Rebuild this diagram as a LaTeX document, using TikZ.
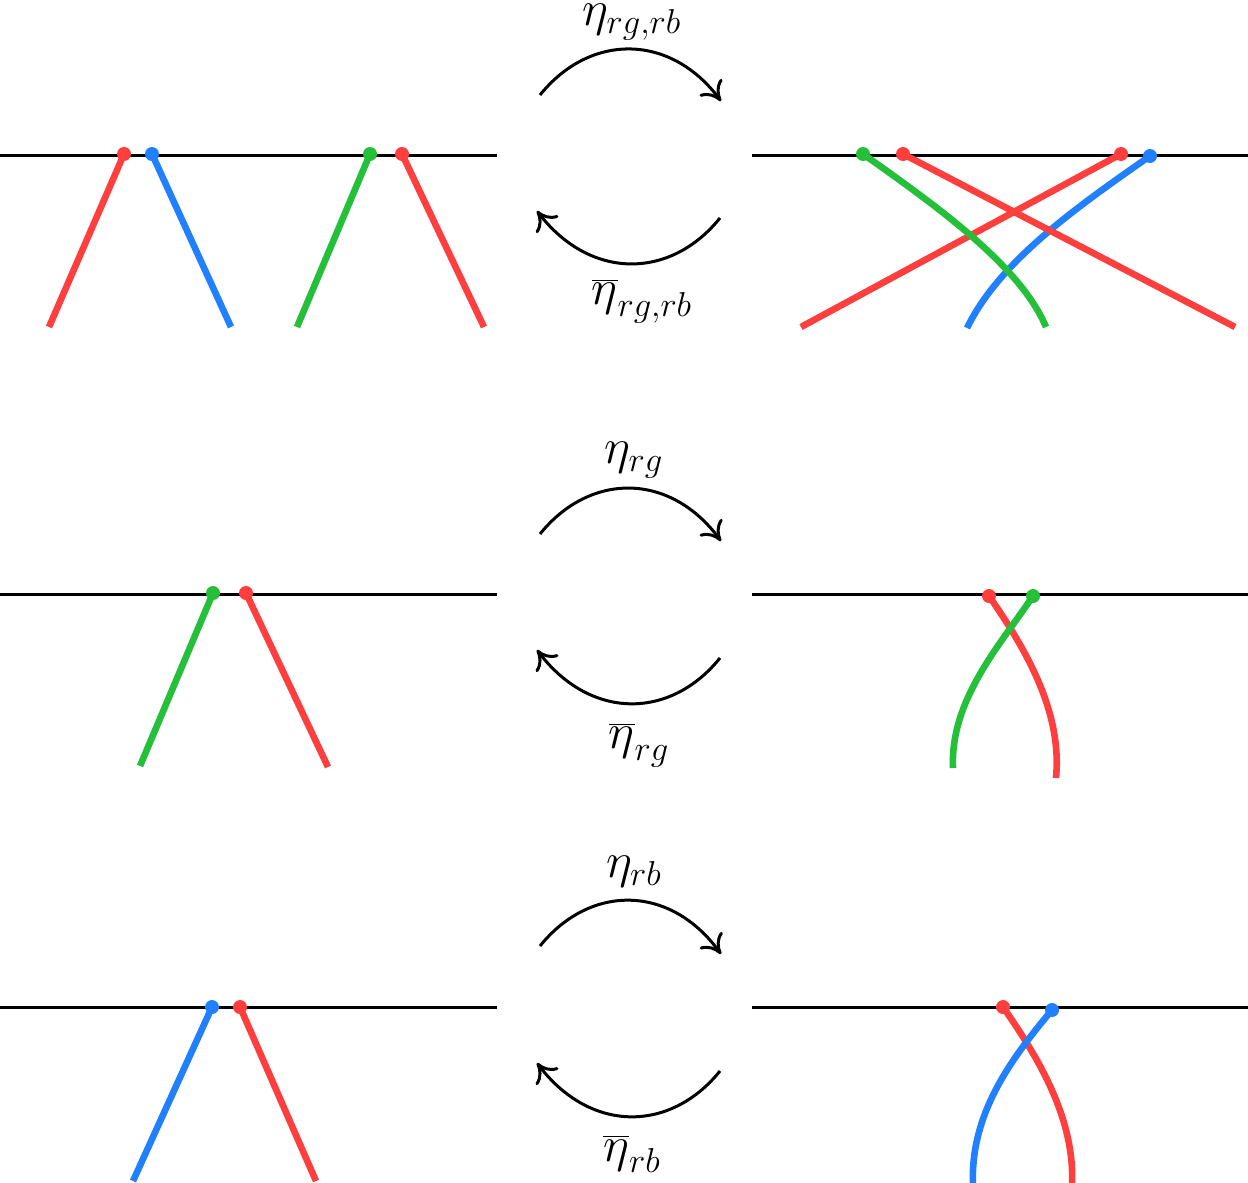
\documentclass[tikz,border=0pt]{standalone}
\usetikzlibrary{arrows.meta}
\definecolor{cred}{RGB}{255,62,62}
\definecolor{cblue}{RGB}{32,128,255}
\definecolor{cgreen}{RGB}{36,192,58}
\begin{document}
\begin{tikzpicture}[x=0.5pt,y=-0.5pt,
  base/.style={line width=1.5pt,black},
  strand/.style={line width=3.3pt,line cap=butt},
  doto/.style={circle,inner sep=0pt,minimum size=7pt},
  arr/.style={line width=1.5pt,-{Computer Modern Rightarrow[length=9pt,width=14pt,line width=1.5pt]}},
  lab/.style={font=\fontsize{23}{28}\selectfont,inner sep=0pt}]
\useasboundingbox (0,0) rectangle (1248,1183);

% ---------- top row ----------
\coordinate (t1a) at (0,155); \coordinate (t1b) at (497,155);
\coordinate (t2a) at (752,155); \coordinate (t2b) at (1248,155);
\draw[base] (t1a) -- (t1b);
\draw[base] (t2a) -- (t2b);
\coordinate (A1) at (124,154); \coordinate (A1e) at (49,327);
\coordinate (A2) at (152,154); \coordinate (A2e) at (231,327);
\coordinate (A3) at (370,154); \coordinate (A3e) at (297,327);
\coordinate (A4) at (402,154); \coordinate (A4e) at (484,327);
\draw[strand,cred] (A1) -- (A1e);
\draw[strand,cblue] (A2) -- (A2e);
\draw[strand,cgreen] (A3) -- (A3e);
\draw[strand,cred] (A4) -- (A4e);
\node[doto,fill=cred] (dA1) at (A1) {};
\node[doto,fill=cblue] (dA2) at (A2) {};
\node[doto,fill=cgreen] (dA3) at (A3) {};
\node[doto,fill=cred] (dA4) at (A4) {};

\coordinate (B1) at (863,154); \coordinate (B1e) at (1046,327);
\coordinate (B2) at (903,154); \coordinate (B2e) at (1235,327);
\coordinate (B3) at (1121,154); \coordinate (B3e) at (801,327);
\coordinate (B4) at (1150,156); \coordinate (B4e) at (967,328);
\draw[strand,cblue] (B4) .. controls (1080,205) and (1000,260) .. (B4e);
\draw[strand,cred] (B2) -- (B2e);
\draw[strand,cred] (B3) -- (B3e);
\draw[strand,cgreen] (B1) .. controls (935,205) and (1020,265) .. (B1e);
\node[doto,fill=cgreen] (dB1) at (B1) {};
\node[doto,fill=cred] (dB2) at (B2) {};
\node[doto,fill=cred] (dB3) at (B3) {};
\node[doto,fill=cblue] (dB4) at (B4) {};

\coordinate (r1s) at (540,95); \coordinate (r1e) at (721,101);
\draw[arr] (r1s) .. controls (590,33) and (670,33) .. (r1e);
\coordinate (l1s) at (720,218); \coordinate (l1e) at (537,211);
\draw[arr] (l1s) .. controls (670,280) and (590,280) .. (l1e);
\node[lab] (n1) at (632,22) {$\eta_{rg,rb}$};
\node[lab] (n2) at (642,301) {$\overline{\eta}_{rg,rb}$};

% ---------- middle row ----------
\coordinate (m1a) at (0,594); \coordinate (m1b) at (497,594);
\coordinate (m2a) at (752,594); \coordinate (m2b) at (1248,594);
\draw[base] (m1a) -- (m1b);
\draw[base] (m2a) -- (m2b);
\coordinate (C1) at (213,593); \coordinate (C1e) at (140,766);
\coordinate (C2) at (246,593); \coordinate (C2e) at (328,767);
\draw[strand,cgreen] (C1) -- (C1e);
\draw[strand,cred] (C2) -- (C2e);
\node[doto,fill=cgreen] (dC1) at (C1) {};
\node[doto,fill=cred] (dC2) at (C2) {};

\coordinate (D1) at (989,596); \coordinate (D1e) at (1056,778);
\coordinate (D2) at (1033,596); \coordinate (D2e) at (953,768);
\draw[strand,cred] (D1) .. controls (1030,655) and (1062,715) .. (D1e);
\draw[strand,cgreen] (D2) .. controls (1000,645) and (950,700) .. (D2e);
\node[doto,fill=cred] (dD1) at (D1) {};
\node[doto,fill=cgreen] (dD2) at (D2) {};

\coordinate (r2s) at (540,534); \coordinate (r2e) at (721,541);
\draw[arr] (r2s) .. controls (590,472) and (670,472) .. (r2e);
\coordinate (l2s) at (720,658); \coordinate (l2e) at (537,650);
\draw[arr] (l2s) .. controls (670,720) and (590,720) .. (l2e);
\node[lab] (n3) at (634,460) {$\eta_{rg}$};
\node[lab] (n4) at (639,745) {$\overline{\eta}_{rg}$};

% ---------- bottom row ----------
\coordinate (b1a) at (0,1007); \coordinate (b1b) at (497,1007);
\coordinate (b2a) at (752,1007); \coordinate (b2b) at (1248,1007);
\draw[base] (b1a) -- (b1b);
\draw[base] (b2a) -- (b2b);
\coordinate (E1) at (212,1007); \coordinate (E1e) at (133,1181);
\coordinate (E2) at (240,1007); \coordinate (E2e) at (316,1181);
\draw[strand,cblue] (E1) -- (E1e);
\draw[strand,cred] (E2) -- (E2e);
\node[doto,fill=cblue] (dE1) at (E1) {};
\node[doto,fill=cred] (dE2) at (E2) {};

\coordinate (F1) at (1003,1007); \coordinate (F1e) at (1072,1185);
\coordinate (F2) at (1052,1010); \coordinate (F2e) at (973,1185);
\draw[strand,cred] (F1) .. controls (1040,1060) and (1075,1120) .. (F1e);
\draw[strand,cblue] (F2) .. controls (1010,1060) and (970,1115) .. (F2e);
\node[doto,fill=cred] (dF1) at (F1) {};
\node[doto,fill=cblue] (dF2) at (F2) {};

\coordinate (r3s) at (540,946); \coordinate (r3e) at (721,954);
\draw[arr] (r3s) .. controls (590,884) and (670,884) .. (r3e);
\coordinate (l3s) at (720,1071); \coordinate (l3e) at (537,1063);
\draw[arr] (l3s) .. controls (670,1133) and (590,1133) .. (l3e);
\node[lab] (n5) at (634,872) {$\eta_{rb}$};
\node[lab] (n6) at (632,1154) {$\overline{\eta}_{rb}$};
\end{tikzpicture}
\end{document}
